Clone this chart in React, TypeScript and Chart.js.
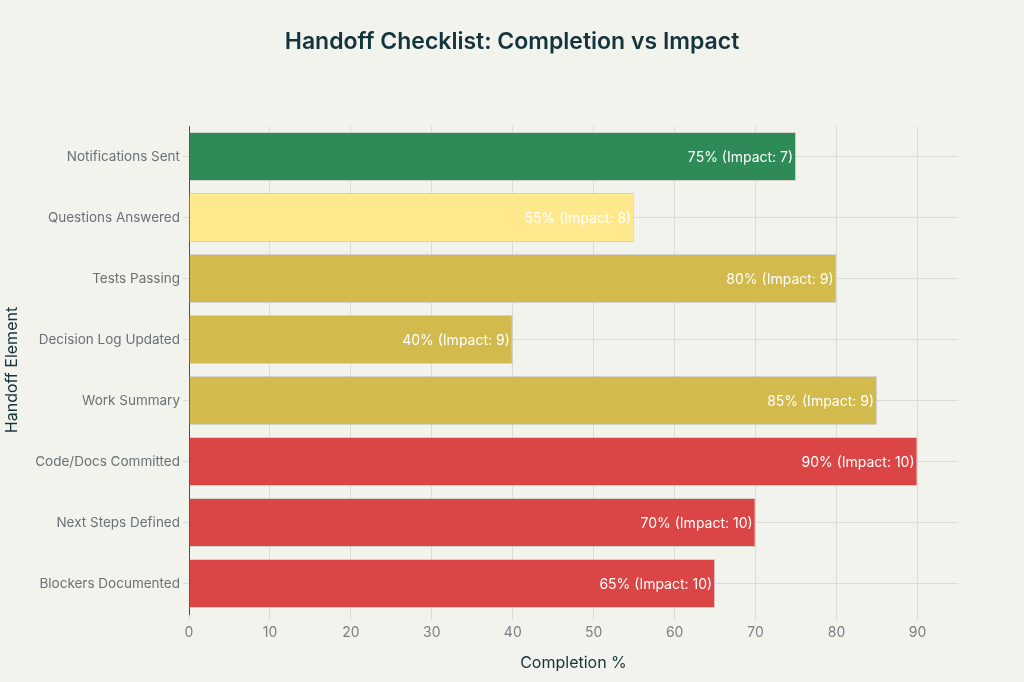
import React, { useEffect, useRef } from "react";
import { Chart, registerables } from "chart.js";

Chart.register(...registerables);

const categories = [
  "Notifications Sent",
  "Questions Answered",
  "Tests Passing",
  "Decision Log Updated",
  "Work Summary",
  "Code/Docs Committed",
  "Next Steps Defined",
  "Blockers Documented",
];
const completion = [75, 55, 80, 40, 85, 90, 70, 65];
const impact = [7, 8, 9, 9, 9, 10, 10, 10];
const xTicks = [0, 10, 20, 30, 40, 50, 60, 70, 80, 90];

const impactColors: Record<number, string> = {
  7: "#2e8b57",
  8: "#ffe98c",
  9: "#d2ba4c",
  10: "#db4545",
};

const FONT = "Inter, 'Liberation Sans', sans-serif";

export default function App() {
  const ref = useRef<HTMLCanvasElement | null>(null);

  useEffect(() => {
    document.body.style.margin = "0";
    document.body.style.background = "#f3f3ee";
    const canvas = ref.current!;

    const bgPlugin = {
      id: "bg",
      beforeDraw(chart: any) {
        const { ctx, width, height } = chart;
        ctx.save();
        ctx.fillStyle = "#f3f3ee";
        ctx.fillRect(0, 0, width, height);
        ctx.restore();
      },
    };

    const titlePlugin = {
      id: "customTitle",
      afterDraw(chart: any) {
        const { ctx } = chart;
        ctx.save();
        ctx.font = `600 23px ${FONT}`;
        ctx.fillStyle = "#13343b";
        ctx.textAlign = "center";
        ctx.textBaseline = "middle";
        ctx.fillText("Handoff Checklist: Completion vs Impact", 512, 42);
        ctx.restore();
      },
    };

    const labelPlugin = {
      id: "barLabels",
      afterDatasetsDraw(chart: any) {
        const { ctx } = chart;
        const meta = chart.getDatasetMeta(0);
        ctx.save();
        ctx.font = `14px ${FONT}`;
        ctx.fillStyle = "#ffffff";
        ctx.textAlign = "right";
        ctx.textBaseline = "middle";
        meta.data.forEach((bar: any, i: number) => {
          ctx.fillText(`${completion[i]}% (Impact: ${impact[i]})`, bar.x - 3, bar.y + 1);
        });
        ctx.restore();
      },
    };

    const chart = new Chart(canvas, {
      type: "bar",
      data: {
        labels: categories,
        datasets: [
          {
            data: completion,
            backgroundColor: impact.map((v) => impactColors[v]),
            borderColor: "rgba(190,190,180,0.6)",
            borderWidth: 1,
            barPercentage: 0.8,
            categoryPercentage: 1,
          },
        ],
      },
      options: {
        indexAxis: "y",
        responsive: false,
        animation: false,
        layout: { padding: { top: 126, right: 66, bottom: 0, left: 0 } },
        plugins: {
          legend: { display: false },
          title: { display: false },
          tooltip: { enabled: false },
        },
        scales: {
          x: {
            min: 0,
            max: 95,
            afterBuildTicks(scale: any) {
              scale.ticks = xTicks.map((v) => ({ value: v }));
            },
            afterFit(scale: any) {
              scale.height = 68;
            },
            grid: {
              color: "#dcdcd6",
              tickLength: 6,
              drawTicks: true,
            },
            border: { display: false },
            ticks: {
              color: "#7a7f85",
              font: { family: FONT, size: 14 },
              padding: 4,
            },
            title: {
              display: true,
              text: "Completion %",
              color: "#13343b",
              font: { family: FONT, size: 16 },
              padding: { top: 0, bottom: 9 },
            },
          },
          y: {
            afterFit(scale: any) {
              scale.width = 189;
            },
            grid: {
              color: "#dcdcd6",
              offset: false,
              tickLength: 6,
            },
            border: { display: true, color: "#4a4f55", width: 1 },
            ticks: {
              color: "#6b7077",
              font: { family: FONT, size: 13.5 },
              padding: 3,
            },
            title: {
              display: true,
              text: "Handoff Element",
              color: "#13343b",
              font: { family: FONT, size: 16 },
              padding: { top: 3, bottom: 0 },
            },
          },
        },
      },
      plugins: [bgPlugin, titlePlugin, labelPlugin],
    });

    return () => chart.destroy();
  }, []);

  return (
    <div style={{ width: 1024, height: 682, background: "#f3f3ee" }}>
      <canvas ref={ref} width={1024} height={682} style={{ display: "block" }} />
    </div>
  );
}
